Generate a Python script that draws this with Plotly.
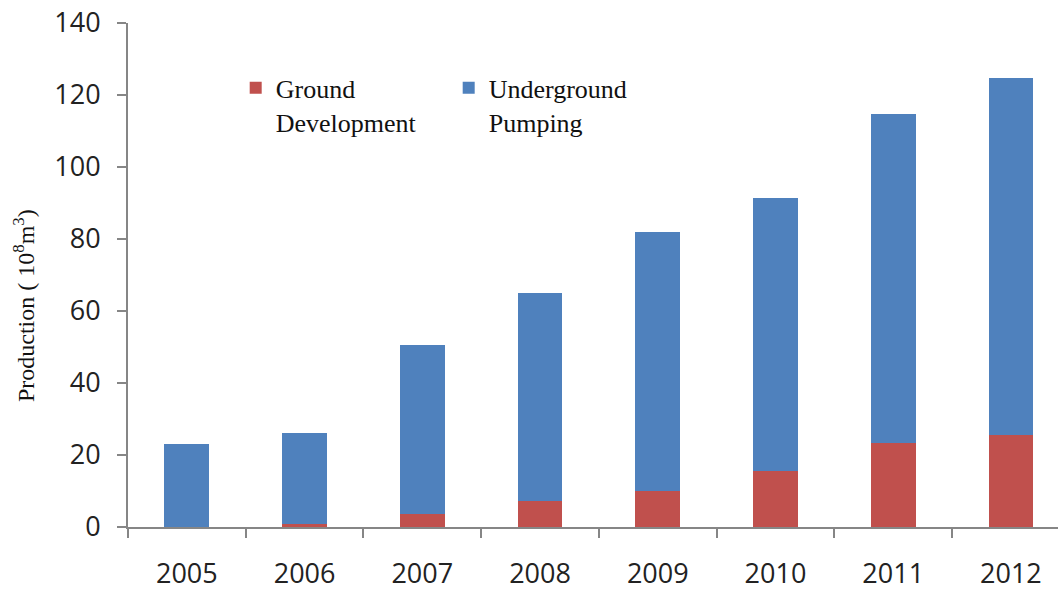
import plotly.graph_objects as go

years = ["2005", "2006", "2007", "2008", "2009", "2010", "2011", "2012"]
ground_development = [0.0, 0.8, 3.6, 7.2, 10.0, 15.5, 23.3, 25.5]
underground_pumping = [23.0, 25.3, 47.0, 57.8, 72.0, 75.9, 91.4, 99.2]

RED = "#C0504D"
BLUE = "#4F81BD"
AXIS_GREY = "#868686"

fig = go.Figure()
fig.add_trace(go.Bar(
    x=years, y=ground_development, name="Ground<br>Development",
    marker=dict(color=RED, line=dict(width=0)), width=0.38,
))
fig.add_trace(go.Bar(
    x=years, y=underground_pumping, name="Underground<br>Pumping",
    marker=dict(color=BLUE, line=dict(width=0)), width=0.38,
))

fig.update_layout(
    barmode="stack",
    width=1058, height=593,
    margin=dict(l=128, r=0, t=23, b=66),
    paper_bgcolor="white", plot_bgcolor="white",
    showlegend=True,
    legend=dict(
        orientation="h", x=0.1158, xanchor="left", y=0.918, yanchor="top",
        valign="top", traceorder="normal",
        entrywidth=168, entrywidthmode="pixels",
        font=dict(family="Liberation Serif", size=26, color="#111111"),
        bgcolor="rgba(0,0,0,0)", tracegroupgap=0,
    ),
    xaxis=dict(
        type="category", range=[-0.5, 7.4], automargin=False,
        showline=True, linecolor=AXIS_GREY, linewidth=2,
        ticks="outside", ticklen=9, tickwidth=2, tickcolor=AXIS_GREY,
        tickson="boundaries", ticklabelstandoff=22,
        tickfont=dict(family="Open Sans", size=27, color="#222222"),
        showgrid=False, zeroline=False,
    ),
    yaxis=dict(
        range=[0, 140], dtick=20, automargin=False,
        showline=True, linecolor=AXIS_GREY, linewidth=2,
        ticks="outside", ticklen=9, tickwidth=2, tickcolor=AXIS_GREY,
        ticklabelstandoff=11,
        tickfont=dict(family="Open Sans", size=27, color="#222222"),
        showgrid=False, zeroline=False,
    ),
    annotations=[dict(
        text="Production ( 10<sup>8</sup>m<sup>3</sup>)",
        xref="paper", yref="paper", x=-0.112, y=0.44,
        xanchor="center", yanchor="middle", textangle=-90, showarrow=False,
        font=dict(family="Liberation Serif", size=24, color="#111111"),
    )],
)

fig.write_html("out.html")
